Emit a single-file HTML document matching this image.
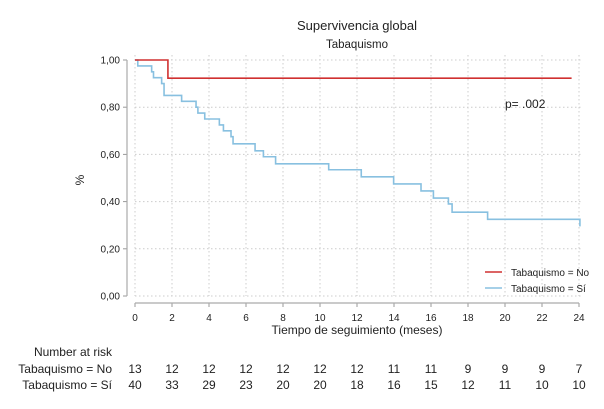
<!DOCTYPE html>
<html><head><meta charset="utf-8"><style>
body{margin:0;background:#fff;}
svg text{font-family:"Liberation Sans",Arial,sans-serif;fill:#222;}
</style></head><body>
<svg id="c" width="604" height="404" viewBox="0 0 604 404" xmlns="http://www.w3.org/2000/svg">
<text x="357" y="30" font-size="13" text-anchor="middle">Supervivencia global</text>
<text x="357" y="48" font-size="11.5" text-anchor="middle">Tabaquismo</text>
<g id="grid"></g><g id="axes"></g><g id="series"></g>
<text x="84" y="180" font-size="12" text-anchor="middle" transform="rotate(-90 84 180)">%</text>
<text x="357" y="334" font-size="12" text-anchor="middle">Tiempo de seguimiento (meses)</text>
<text x="505" y="108" font-size="12">p= .002</text>
<g>
<line x1="485" y1="272" x2="502" y2="272" stroke="#d03030" stroke-width="1.6"/>
<text x="511" y="276" font-size="10">Tabaquismo = No</text>
<line x1="485" y1="288" x2="502" y2="288" stroke="#88c0e0" stroke-width="1.6"/>
<text x="511" y="292" font-size="10">Tabaquismo = Sí</text>
</g>
<text x="112" y="356" font-size="12" text-anchor="end">Number at risk</text>
<text x="112" y="373" font-size="12" text-anchor="end">Tabaquismo = No</text>
<text x="112" y="389" font-size="12" text-anchor="end">Tabaquismo = Sí</text>
<g id="risk"></g>
</svg>
<script>
const xTicks=[0,2,4,6,8,10,12,14,16,18,20,22,24];
const yTicks=[0,0.2,0.4,0.6,0.8,1.0];
const yTickLabels=["0,00","0,20","0,40","0,60","0,80","1,00"];
const noTimes=[0,1.78,23.6];
const noSurv=[1.0,0.923,0.923];
const siTimes=[0,0.15,0.9,1.0,1.44,1.57,2.52,3.3,3.4,3.77,4.56,4.78,5.19,5.3,6.49,6.94,7.6,10.47,12.23,13.98,15.46,16.13,16.94,17.14,19.06,24.0,24.05];
const siSurv=[1.0,0.975,0.95,0.925,0.90,0.85,0.825,0.80,0.775,0.75,0.725,0.70,0.675,0.645,0.615,0.59,0.56,0.535,0.505,0.475,0.445,0.415,0.39,0.355,0.325,0.325,0.295];
const riskNo=[13,12,12,12,12,12,12,11,11,9,9,9,7];
const riskSi=[40,33,29,23,20,20,18,16,15,12,11,10,10];
const X=t=>135+t*18.5, Y=v=>296-v*236;
const NS="http://www.w3.org/2000/svg";
function mk(tag,attrs,parent){const e=document.createElementNS(NS,tag);for(const k in attrs)e.setAttribute(k,attrs[k]);document.getElementById(parent).appendChild(e);return e;}
xTicks.forEach((t,i)=>{
 const g=mk('line',{x1:X(t),y1:55,x2:X(t),y2:296,stroke:'#ccc','stroke-width':1,'stroke-dasharray':'1.5 2.5'},'grid');
 
 
 const tk=mk('line',{x1:X(t),y1:303,x2:X(t),y2:307,stroke:'#999','stroke-width':1},'axes');
 
 
 const tl=mk('text',{x:X(t),y:321,'font-size':10,'text-anchor':'middle'},'axes');tl.textContent=t;
 
 
 const a=mk('text',{x:X(t),y:373,'font-size':12,'text-anchor':'middle'},'risk');a.textContent=riskNo[i];
 
 
 const b=mk('text',{x:X(t),y:389,'font-size':12,'text-anchor':'middle'},'risk');b.textContent=riskSi[i];
 
 
});
yTicks.forEach((v,i)=>{
 const g=mk('line',{x1:135,y1:Y(v),x2:582,y2:Y(v),stroke:'#ccc','stroke-width':1,'stroke-dasharray':'1.5 2.5'},'grid');
 
 
 const tk=mk('line',{x1:123,y1:Y(v),x2:127,y2:Y(v),stroke:'#999','stroke-width':1},'axes');
 
 
 const tl=mk('text',{x:120,y:Y(v)+3.5,'font-size':10,'text-anchor':'end'},'axes');tl.textContent=yTickLabels[i];
 
 
});
const ya=mk('line',{x1:127,y1:Y(1.0),x2:127,y2:296,stroke:'#aaa','stroke-width':1.2},'axes');


const xa=mk('line',{x1:X(0),y1:303,x2:X(24),y2:303,stroke:'#aaa','stroke-width':1.2},'axes');


function step(ts,vs){let d='M'+X(ts[0])+','+Y(vs[0]);for(let i=1;i<ts.length;i++){d+=' H'+X(ts[i])+' V'+Y(vs[i]);}return d;}
const si=mk('path',{d:step(siTimes,siSurv),fill:'none',stroke:'#88c0e0','stroke-width':1.6},'series');


const no=mk('path',{d:step(noTimes,noSurv),fill:'none',stroke:'#d03030','stroke-width':1.6},'series');


</script>
</body></html>
